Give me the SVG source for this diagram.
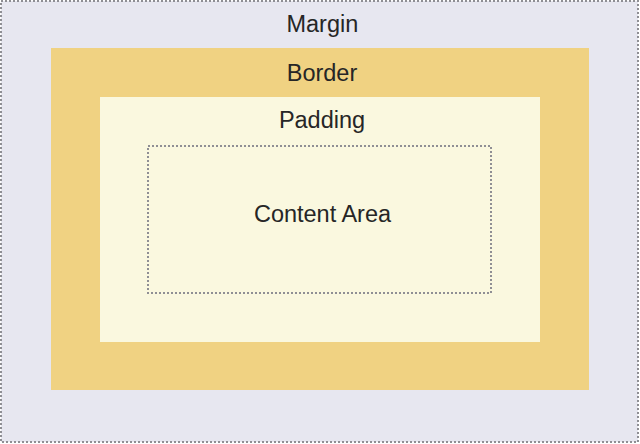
<svg xmlns="http://www.w3.org/2000/svg" width="640" height="444" viewBox="0 0 640 444">
<style>
.lbl{font-family:"Liberation Sans",Arial,Helvetica,sans-serif;font-size:23.5px;fill:#262626;text-anchor:middle}
.dot{fill:none;stroke:#8f8f94;stroke-width:2;stroke-dasharray:2 2}
</style>
<g id="margin">
<rect x="1" y="1" width="637" height="441" fill="#e7e7f0"/>
<rect x="1" y="1" width="637" height="441" class="dot"/>
<text class="lbl" x="322.4" y="32">Margin</text>
</g>
<g id="border">
<rect x="51" y="48" width="538" height="342" fill="#f0d282"/>
<text class="lbl" x="322" y="80.5">Border</text>
</g>
<g id="padding">
<rect x="100" y="97" width="440" height="245" fill="#faf8df"/>
<text class="lbl" x="322" y="128">Padding</text>
</g>
<g id="content">
<rect x="148" y="146" width="343" height="147" class="dot"/>
<text class="lbl" x="322.5" y="222">Content Area</text>
</g>
<g id="connectors"/>
</svg>
